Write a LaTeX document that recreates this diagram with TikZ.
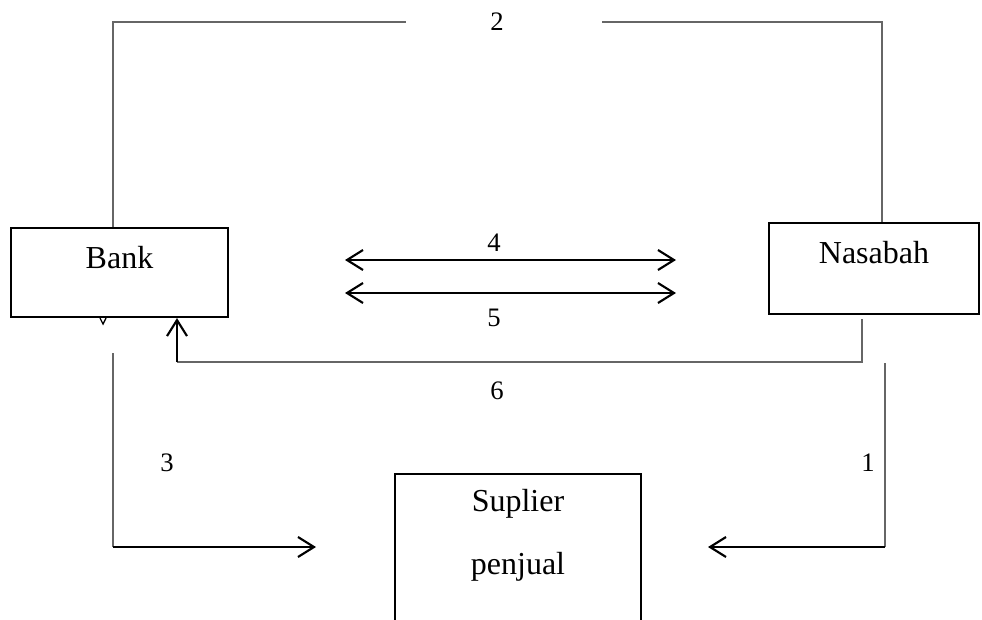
\documentclass[tikz,border=0pt]{standalone}
\usepackage{fontspec}
\setmainfont{Liberation Serif}
\usepackage{tikz}
\usetikzlibrary{arrows.meta,positioning}

\begin{document}
\begin{tikzpicture}[x=0.75pt,y=0.75pt,yscale=-1,xscale=1,
  entity/.style={draw,line width=1.6pt,inner sep=0pt},
  boxtext/.style={font=\fontsize{24}{28}\selectfont},
  num/.style={font=\fontsize{20}{24}\selectfont},
  link/.style={draw=black!60,line width=0.8pt},
  flow/.style={draw,line width=1.6pt,-{Straight Barb[length=12pt,width=15pt]}}]
\useasboundingbox (0,0) rectangle (982,619);
\clip (0,0) rectangle (982,619);

%Shape: Boxes
\node[entity,minimum width=162.75pt,minimum height=66.75pt] (bank) at (119.5,272.5) {};
\node[entity,minimum width=157.5pt,minimum height=68.25pt] (nasabah) at (874,268.5) {};
\node[entity,minimum width=184.5pt,minimum height=150pt] (supl) at (518,574) {};

% Text Node
\node[boxtext] (banktxt) at ([yshift=-10.9pt]bank.center) {Bank};
\node[boxtext] (nasabahtxt) at ([yshift=-11.6pt]nasabah.center) {Nasabah};
\node[boxtext] (supltxt) at ([yshift=23.25pt]supl.north) {Suplier};
\node[boxtext] (penjualtxt) at ([yshift=70.5pt]supl.north) {penjual};

% Corner points
\coordinate (c2a) at (113,22);
\coordinate (t2l) at (406,22);
\coordinate (t2r) at (602,22);
\coordinate (c2b) at (882,22);
\coordinate (c3a) at (113,353);
\coordinate (c3b) at (113,547);
\coordinate (a3) at (316,547);
\coordinate (c1a) at (885,363);
\coordinate (c1b) at (885,547);
\coordinate (a1) at (708,547);
\coordinate (c6r) at (862,362);
\coordinate (c6l) at (177,362);
\coordinate (a4l) at (345,260);
\coordinate (a4r) at (676,260);
\coordinate (a5l) at (345,293);
\coordinate (a5r) at (676,293);

% Number labels
\node[num] (n2) at (497,22) {2};
\node[num] (n4) at (494,243) {4};
\node[num] (n5) at (494,318) {5};
\node[num] (n6) at (497,391) {6};
\node[num] (n3) at (167,463) {3};
\node[num] (n1) at (868,463) {1};

% Connection 2
\draw[link] (bank.north -| c2a) -- (c2a) -- (t2l);
\draw[link] (t2r) -- (c2b) -- (c2b |- nasabah.north);
% stub under bank
\draw[line width=1pt] (100,318) -- (103,324) -- (106,318);
% Connection 3
\draw[link] (c3a) -- (c3b);
\draw[flow] (c3b) -- (a3);
% Connection 1
\draw[link] (c1a) -- (c1b);
\draw[flow] (c1b) -- (a1);
% Connection 4 and 5
\draw[flow,{Straight Barb[length=12pt,width=15pt]}-{Straight Barb[length=12pt,width=15pt]}] (a4l) -- (a4r);
\draw[flow,{Straight Barb[length=12pt,width=15pt]}-{Straight Barb[length=12pt,width=15pt]}] (a5l) -- (a5r);
% Connection 6
\draw[link] ([yshift=3pt]nasabah.south -| c6r) -- (c6r) -- (c6l);
\draw[flow] (c6l) -- (bank.south -| c6l);

\end{tikzpicture}
\end{document}
